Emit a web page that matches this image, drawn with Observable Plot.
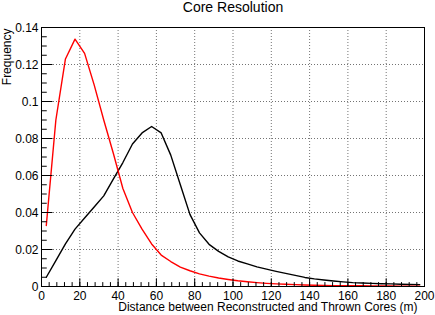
<!DOCTYPE html>
<html>
<head>
<meta charset="utf-8">
<script src="https://cdn.jsdelivr.net/npm/d3@7"></script>
<script src="https://cdn.jsdelivr.net/npm/@observablehq/plot@0.6"></script>
<style>
  html, body { margin: 0; padding: 0; background: #fff; }
  #chart svg { display: block; }
</style>
</head>
<body>
<div id="chart"></div>
<script>
// Bin centres (m)
const binCenters = [2.5, 7.5, 12.5, 17.5, 22.5, 27.5, 32.5, 37.5, 42.5, 47.5,
  52.5, 57.5, 62.5, 67.5, 72.5, 77.5, 82.5, 87.5, 92.5, 97.5,
  102.5, 107.5, 112.5, 117.5, 122.5, 127.5, 132.5, 137.5, 142.5, 147.5,
  152.5, 157.5, 162.5, 167.5, 172.5, 177.5, 182.5, 187.5, 192.5, 197.5];

// Red series frequency
const redFreq = [0.033, 0.090, 0.123, 0.1337, 0.126, 0.109, 0.090, 0.072, 0.053, 0.040,
  0.031, 0.023, 0.017, 0.0135, 0.0105, 0.0085, 0.0068, 0.0056, 0.0046, 0.0038,
  0.0031, 0.0026, 0.0021, 0.0017, 0.0014, 0.0012, 0.0010, 0.0008, 0.0007, 0.0006,
  0.0005, 0.0005, 0.0004, 0.0004, 0.0003, 0.0003, 0.0003, 0.0002, 0.0002, 0.0002];

// Black series frequency
const blackFreq = [0.005, 0.014, 0.023, 0.031, 0.037, 0.043, 0.049, 0.058, 0.067, 0.077,
  0.083, 0.0865, 0.083, 0.071, 0.055, 0.039, 0.029, 0.0228, 0.019, 0.016,
  0.0138, 0.0122, 0.0106, 0.0094, 0.0082, 0.0071, 0.0060, 0.0049, 0.0041, 0.0035,
  0.0030, 0.0025, 0.0021, 0.0019, 0.0017, 0.0015, 0.0014, 0.0012, 0.0011, 0.0010];

const xTicks = [0, 20, 40, 60, 80, 100, 120, 140, 160, 180, 200];
const xTickLabels = ["0", "20", "40", "60", "80", "100", "120", "140", "160", "180", "200"];
const yTicks = [0, 0.02, 0.04, 0.06, 0.08, 0.1, 0.12, 0.14];
const yTickLabels = ["0", "0.02", "0.04", "0.06", "0.08", "0.1", "0.12", "0.14"];

const titleText = "Core Resolution";
const xLabel = "Distance between Reconstructed and Thrown Cores (m)";
const yLabel = "Frequency";

const red = binCenters.map((x, i) => ({x, y: redFreq[i]}));
const black = binCenters.map((x, i) => ({x, y: blackFreq[i]}));

const width = 435, height = 315;
const mL = 41, mR = 11, mT = 27, mB = 29;
const W = width - mL - mR, H = height - mT - mB;
const xMinor = d3.range(0, 200.001, 4);
const yMinor = d3.range(0, 0.14001, 0.005);
const font = "'Liberation Sans', Arial, Helvetica, sans-serif";

const chart = Plot.plot({
  width, height,
  marginLeft: mL, marginRight: mR, marginTop: mT, marginBottom: mB,
  style: {fontFamily: font, fontSize: "12px", background: "#fff", color: "#000"},
  x: {domain: [0, 200], axis: null},
  y: {domain: [0, 0.14], axis: null},
  marks: [
    Plot.gridX(xTicks, {stroke: "#000", strokeOpacity: 0.55, strokeDasharray: "1,2"}),
    Plot.gridY(yTicks, {stroke: "#000", strokeOpacity: 0.55, strokeDasharray: "1,2"}),
    Plot.line(black, {x: "x", y: "y", stroke: "#000", strokeWidth: 1.4}),
    Plot.line(red, {x: "x", y: "y", stroke: "#ff0000", strokeWidth: 1.4}),
    // inward ticks
    Plot.ruleX(xTicks, {x: d => d, insetTop: H - 7.7, stroke: "#000"}),
    Plot.ruleX(xMinor, {x: d => d, insetTop: H - 3.9, stroke: "#000"}),
    Plot.ruleY(yTicks, {y: d => d, insetRight: W - 11.5, stroke: "#000"}),
    Plot.ruleY(yMinor, {y: d => d, insetRight: W - 5.75, stroke: "#000"}),
    Plot.frame({stroke: "#000", strokeWidth: 1}),
    // tick labels
    Plot.axisX(xTicks, {tickSize: 0, tickPadding: 4.5, tickFormat: (d, i) => xTickLabels[i], fontSize: 12, label: null}),
    Plot.axisY(yTicks, {tickSize: 0, tickPadding: 3, dy: 0.5, tickFormat: (d, i) => yTickLabels[i], fontSize: 12, label: null}),
    // titles (baseline-anchored)
    Plot.text([titleText], {frameAnchor: "top", lineAnchor: "bottom", dy: -15.5, fontSize: 14, fill: "#000"}),
    Plot.text([xLabel], {frameAnchor: "bottom-right", lineAnchor: "bottom", textAnchor: "end", dx: -7, dy: 24.5, fontSize: 12, fill: "#000"}),
    Plot.text([yLabel], {frameAnchor: "top-left", lineAnchor: "bottom", textAnchor: "end", rotate: -90, dx: 10.5 - mL - 0.5, dy: 1, fontSize: 12, fill: "#000"})
  ]
});
document.getElementById("chart").append(chart);
</script>
</body>
</html>
